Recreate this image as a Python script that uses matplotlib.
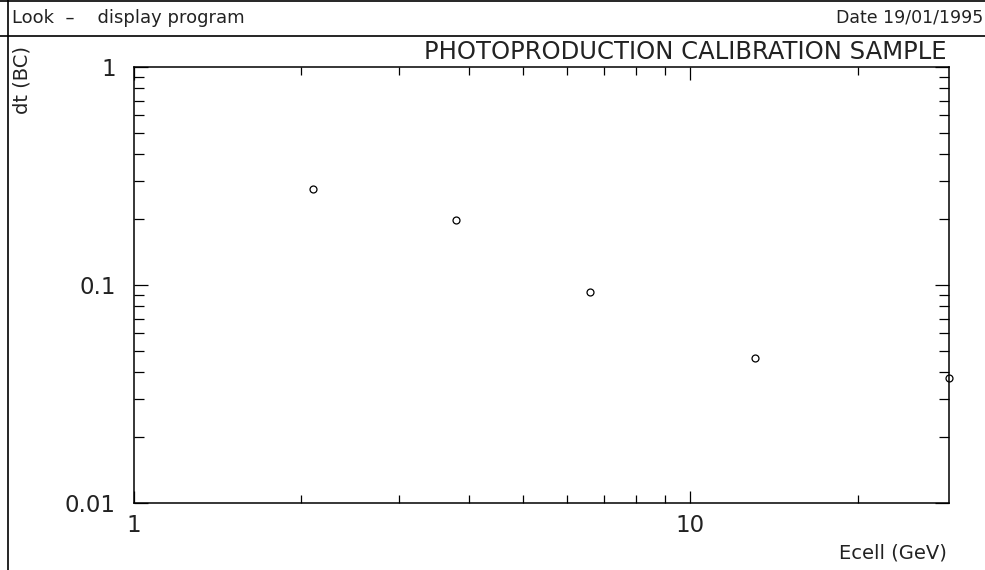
import matplotlib.pyplot as plt
from matplotlib.ticker import LogLocator, NullFormatter, FixedLocator, FixedFormatter
from matplotlib.lines import Line2D

# values
ecell = [2.10, 3.80, 6.61, 13.1, 29.2]
dt = [0.275, 0.199, 0.093, 0.0463, 0.0374]

x_ticks = [1, 10]
x_labels = ['1', '10']
y_ticks = [0.01, 0.1, 1]
y_labels = ['0.01', '0.1', '1']

plt.rcParams['font.family'] = ['DejaVu Sans']
ink = '#222222'

fig = plt.figure(figsize=(9.85, 5.7), dpi=100)
ax = fig.add_axes([134 / 985, 1 - 503 / 570, (949 - 134) / 985, (503 - 67) / 570])

ax.plot(ecell, dt, 'o', mfc='none', mec='black', ms=5, mew=0.9, clip_on=False)

ax.set_xscale('log')
ax.set_yscale('log')
ax.set_xlim(1, 29.2)
ax.set_ylim(0.01, 1)

ax.xaxis.set_major_locator(FixedLocator(x_ticks))
ax.xaxis.set_major_formatter(FixedFormatter(x_labels))
ax.yaxis.set_major_locator(FixedLocator(y_ticks))
ax.yaxis.set_major_formatter(FixedFormatter(y_labels))
for axis in (ax.xaxis, ax.yaxis):
    axis.set_minor_locator(LogLocator(base=10, subs=range(2, 10), numticks=20))
    axis.set_minor_formatter(NullFormatter())

ax.tick_params(which='both', direction='in', top=True, right=True, color='black', width=0.9,
               labelsize=16.5, labelcolor=ink)
ax.tick_params(axis='x', which='major', length=9, pad=8)
ax.tick_params(axis='x', which='minor', length=6)
ax.tick_params(axis='y', which='major', length=10, pad=13)
ax.tick_params(axis='y', which='minor', length=7)
for sp in ax.spines.values():
    sp.set_linewidth(1.1)

fig.text(946 / 985, 1 - 52 / 570, 'PHOTOPRODUCTION CALIBRATION SAMPLE',
         ha='right', va='center', fontsize=17.5, color=ink)
fig.text(22 / 985, 1 - 80 / 570, 'dt (BC)', rotation=90,
         ha='center', va='center', fontsize=14, color=ink)
fig.text(947 / 985, 1 - 553 / 570, 'Ecell (GeV)',
         ha='right', va='center', fontsize=14, color=ink)

# header strip
fig.text(12 / 985, 1 - 18 / 570, 'Look  \u2013    display program',
         ha='left', va='center', fontsize=13, color=ink)
fig.text(983 / 985, 1 - 18 / 570, 'Date 19/01/1995',
         ha='right', va='center', fontsize=12.5, color=ink)
fig.add_artist(Line2D([0, 1], [1 - 36 / 570] * 2, transform=fig.transFigure, color='black', lw=1.2))
fig.add_artist(Line2D([0, 1], [1 - 1 / 570] * 2, transform=fig.transFigure, color='black', lw=1.2))
fig.add_artist(Line2D([8 / 985] * 2, [0, 1], transform=fig.transFigure, color='black', lw=1.2))

fig.savefig('out.png', dpi=100)
